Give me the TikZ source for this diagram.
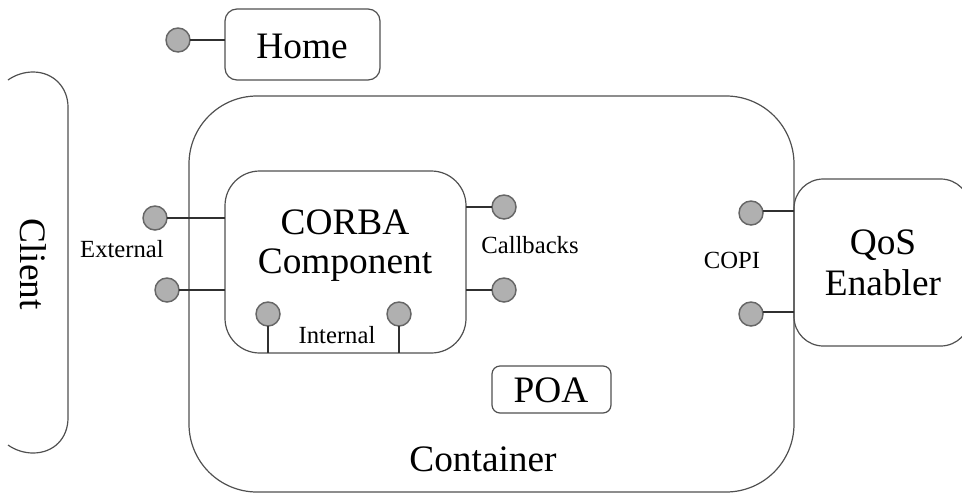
\documentclass[tikz,border=0pt]{standalone}
\usepackage{fontspec}
\setmainfont{Liberation Serif}
\tikzset{
  boxshape/.style={draw=linegray,line width=0.9pt,rounded corners=#1,inner sep=0pt,outer sep=0pt},
  port/.style={circle,draw=portedge,fill=portfill,line width=1.1pt,minimum size=18pt,inner sep=0pt,outer sep=0pt},
  wire/.style={draw=wiredark,line width=0.9pt},
  biglabel/.style={font=\fontsize{28}{30.75}\selectfont,inner sep=0pt,outer sep=0pt,anchor=base,text=black,align=center},
  smalllabel/.style={font=\fontsize{18.5}{20}\selectfont,inner sep=0pt,outer sep=0pt,anchor=base,text=black}
}
\definecolor{linegray}{HTML}{505050}
\definecolor{wiredark}{HTML}{303030}
\definecolor{portedge}{HTML}{666666}
\definecolor{portfill}{HTML}{B0B0B0}
\begin{document}
\begin{tikzpicture}[x=0.75pt,y=-0.75pt]
\useasboundingbox (0,0) rectangle (962,493);
\clip (0,0) rectangle (962,493);
% boxes
\node[boxshape=51pt,minimum width=453.75pt,minimum height=297pt] (container) at (491.5,294) {};
\node[boxshape=26pt,minimum width=180.75pt,minimum height=136.5pt] (corba) at (345.5,262) {};
\node[boxshape=9pt,minimum width=116.25pt,minimum height=53.25pt] (home) at (302.5,44.5) {};
\node[boxshape=6pt,minimum width=89.25pt,minimum height=35.25pt] (poa) at (551.5,389.5) {};
\node[boxshape=22pt,minimum width=132pt,minimum height=125.25pt] (qos) at (882,262.5) {};
% client outline (open on the left)
\coordinate (clienttop) at (8,80);
\coordinate (clientbot) at (8,445);
\draw[draw=linegray,line width=0.9pt] (clienttop) .. controls (15,75) and (24,72) .. (33,72)
  .. controls (54,72) and (68,88) .. (68,107) -- (68,418)
  .. controls (68,438) and (54,453) .. (33,453)
  .. controls (24,453) and (15,450) .. (clientbot);
% ports
\node[port] (phome) at (178,40) {};
\node[port] (pext1) at (155,218) {};
\node[port] (pext2) at (167,290) {};
\node[port] (pint1) at (268,314) {};
\node[port] (pint2) at (399,314) {};
\node[port] (pcb1) at (504,207) {};
\node[port] (pcb2) at (504,290) {};
\node[port] (pcopi1) at (751,213) {};
\node[port] (pcopi2) at (751,314) {};
% connectors
\draw[wire] (phome.east) -- (phome.east -| home.west);
\draw[wire] (pext1.east) -- (pext1.east -| corba.west);
\draw[wire] (pext2.east) -- (pext2.east -| corba.west);
\draw[wire] (pint1.south) -- (pint1.south |- corba.south);
\draw[wire] (pint2.south) -- (pint2.south |- corba.south);
\draw[wire] (pcb1.west) -- (pcb1.west -| corba.east);
\draw[wire] (pcb2.west) -- (pcb2.west -| corba.east);
\draw[wire] (pcopi1.east) ++(0,-2) coordinate (c1) -- (c1 -| qos.west);
\draw[wire] (pcopi2.east) ++(0,-2) coordinate (c2) -- (c2 -| qos.west);
% labels
\node[biglabel] (thome) at (302,58) {Home};
\node[biglabel] (tcorba) at (345,234) {CORBA};
\node[biglabel] (tcomp) at (345,273) {Component};
\node[biglabel] (tpoa) at (551,402) {POA};
\node[biglabel] (tqos) at (883,254) {QoS};
\node[biglabel] (tenab) at (883,295) {Enabler};
\node[biglabel] (tcont) at (483,471) {Container};
\node[biglabel,rotate=-90] (tclient) at (20,264) {Client};
\node[smalllabel] (text) at (122,257) {External};
\node[smalllabel] (tint) at (337,343) {Internal};
\node[smalllabel] (tcb) at (530,253) {Callbacks};
\node[smalllabel] (tcopi) at (732,268) {COPI};
\end{tikzpicture}
\end{document}
